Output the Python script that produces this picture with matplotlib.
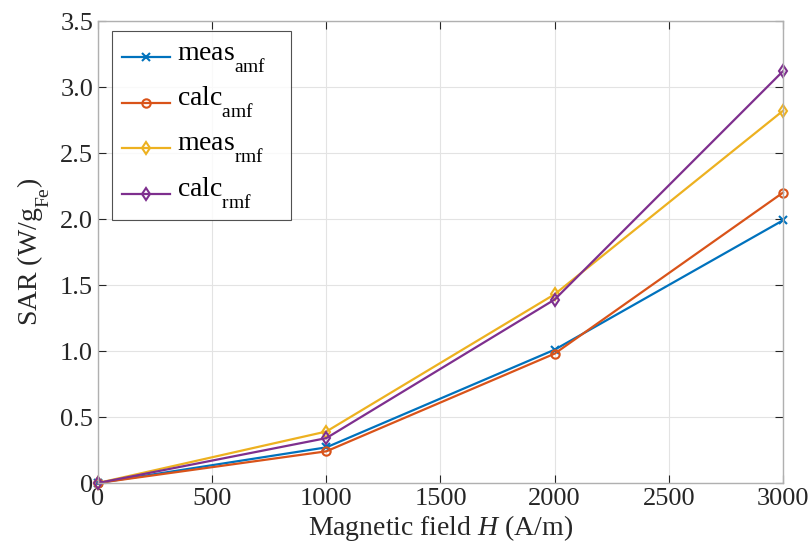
import matplotlib
matplotlib.use("Agg")
import matplotlib.pyplot as plt
from matplotlib import _mathtext
from matplotlib.legend_handler import HandlerLine2D

_mathtext.FontConstantsBase.sub1 = 0.95

H = [0, 1000, 2000, 3000]
meas_amf = [0.0, 0.27, 1.01, 1.99]
calc_amf = [0.0, 0.24, 0.98, 2.20]
meas_rmf = [0.0, 0.39, 1.43, 2.82]
calc_rmf = [0.0, 0.34, 1.39, 3.12]
labels = [r'meas$_{\rm amf}$', r'calc$_{\rm amf}$', r'meas$_{\rm rmf}$', r'calc$_{\rm rmf}$']
xticks = [0, 500, 1000, 1500, 2000, 2500, 3000]
yticks = [0, 0.5, 1.0, 1.5, 2.0, 2.5, 3.0, 3.5]
yticklabels = ['0', '0.5', '1.0', '1.5', '2.0', '2.5', '3.0', '3.5']

plt.rcParams['font.family'] = ['Liberation Serif', 'DejaVu Serif']
plt.rcParams['mathtext.fontset'] = 'custom'
plt.rcParams['mathtext.rm'] = 'Liberation Serif'
plt.rcParams['mathtext.it'] = 'Liberation Serif:italic'


class ShiftedHandler(HandlerLine2D):
    def create_artists(self, legend, orig_handle, xdescent, ydescent, width, height,
                       fontsize, trans):
        return super().create_artists(legend, orig_handle, xdescent, ydescent + 10,
                                      width, height, fontsize, trans)


fig = plt.figure(figsize=(8.12, 5.53), dpi=100)
ax = fig.add_axes([98/812, 1 - 483/553, (783-98)/812, (483-21)/553])

colors = ['#0072BD', '#D95319', '#EDB120', '#7E2F8E']
markers = ['x', 'o', 'd', 'd']
for ys, c, m, lab in zip([meas_amf, calc_amf, meas_rmf, calc_rmf], colors, markers, labels):
    ax.plot(H, ys, color=c, marker=m, markersize=6, markerfacecolor='none',
            markeredgewidth=1.5, linewidth=1.6, label=lab, clip_on=False)

ax.set_xlim(0, 3000)
ax.set_ylim(0, 3.5)
ax.set_xticks(xticks)
ax.set_yticks(yticks)
ax.set_yticklabels(yticklabels)
ax.grid(True, color='#e3e3e3', linewidth=0.8)
ax.set_axisbelow(True)
for s in ax.spines.values():
    s.set_color('#b0b0b0')
    s.set_linewidth(1.0)
ax.tick_params(direction='in', top=True, right=True, labelsize=19, colors='#262626',
               length=6, width=0.8)
ax.tick_params(axis='both', colors='#262626', labelcolor='#262626')
ax.set_xlabel(r'Magnetic field $\mathit{H}$ (A/m)', fontsize=20, color='#262626', labelpad=2)
ax.set_ylabel(r'SAR (W/g$_{\rm Fe}$)', fontsize=20, color='#262626', labelpad=6)

handles, labs = ax.get_legend_handles_labels()
leg = ax.legend(handles, [l + '   ' for l in labs], loc='upper left', fontsize=20,
                frameon=True, fancybox=False,
                edgecolor='#262626', borderpad=0.35, labelspacing=0.38, handlelength=1.75,
                handletextpad=0.25, borderaxespad=0,
                bbox_to_anchor=(14/685, 1 - 10/462),
                handler_map={h: ShiftedHandler() for h in handles})
leg.get_frame().set_linewidth(0.8)

fig.savefig('out.png', dpi=100)
